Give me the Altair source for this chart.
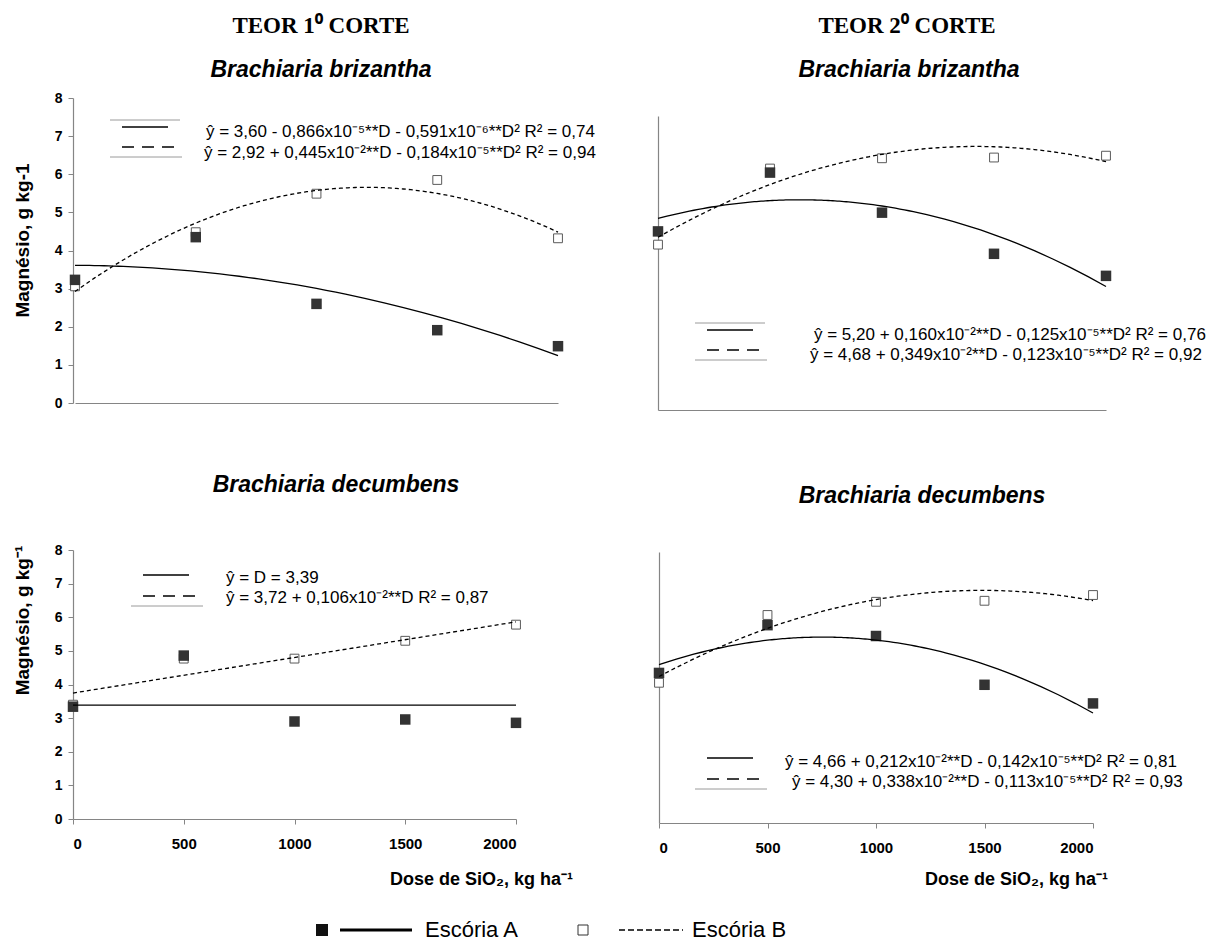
import altair as alt
import pandas as pd

# ---------------------------------------------------------------- data
DOSES = [0, 500, 1000, 1500, 2000]          # Dose de SiO2, kg/ha

# 1º corte – Brachiaria brizantha
TL_A = [3.23, 4.35, 2.60, 1.91, 1.49]
TL_B = [3.06, 4.48, 5.49, 5.85, 4.32]
# 2º corte – Brachiaria brizantha
TR_A = [4.86, 6.46, 5.37, 4.25, 3.65]
TR_B = [4.50, 6.57, 6.85, 6.87, 6.92]
# 1º corte – Brachiaria decumbens
BL_A = [3.34, 4.86, 2.90, 2.96, 2.86]
BL_B = [3.40, 4.77, 4.77, 5.30, 5.78]
# 2º corte – Brachiaria decumbens
BR_A = [4.43, 5.84, 5.52, 4.08, 3.53]
BR_B = [4.14, 6.14, 6.53, 6.56, 6.73]

Y_TICKS = [0, 1, 2, 3, 4, 5, 6, 7, 8]
X_TICKS = [0, 500, 1000, 1500, 2000]

EQ_TL = ["ŷ = 3,60 - 0,866x10⁻⁵**D - 0,591x10⁻⁶**D² R² = 0,74",
         "ŷ = 2,92 + 0,445x10⁻²**D - 0,184x10⁻⁵**D² R² = 0,94"]
EQ_TR = ["ŷ = 5,20 + 0,160x10⁻²**D - 0,125x10⁻⁵**D² R² = 0,76",
         "ŷ = 4,68 + 0,349x10⁻²**D - 0,123x10⁻⁵**D² R² = 0,92"]
EQ_BL = ["ŷ = D = 3,39",
         "ŷ = 3,72 + 0,106x10⁻²**D R² = 0,87"]
EQ_BR = ["ŷ = 4,66 + 0,212x10⁻²**D - 0,142x10⁻⁵**D² R² = 0,81",
         "ŷ = 4,30 + 0,338x10⁻²**D - 0,113x10⁻⁵**D² R² = 0,93"]

# ---------------------------------------------------------------- style
W, H = 1215, 942
SANS = "Liberation Sans, Arial, sans-serif"
SERIF = "Liberation Serif, Times New Roman, serif"
GRAY = "#858585"
EQ_SIZE = 17


def frame(a, b):
    rows = [{"dose": d, "mg": v, "serie": "A"} for d, v in zip(DOSES, a)]
    rows += [{"dose": d, "mg": v, "serie": "B"} for d, v in zip(DOSES, b)]
    return pd.DataFrame(rows)


def panel(a, b, xr, yr, xaxis, yaxis, flat_a=False, linear_b=False):
    """One plot: points of both slags plus their fitted curves."""
    xs = alt.Scale(domain=[0, 2000], range=xr, nice=False, zero=False)
    ys = alt.Scale(domain=[0, 8], range=yr, nice=False, zero=False)
    base = alt.Chart(frame(a, b))

    def enc(ch):
        return ch.encode(
            x=alt.X("dose:Q", scale=xs, axis=xaxis),
            y=alt.Y("mg:Q", scale=ys, axis=yaxis),
        )

    open_pts = enc(base.transform_filter(alt.datum.serie == "B").mark_square(
        size=78, fill="white", stroke="#5a5a5a", strokeWidth=1, opacity=1))
    full_pts = enc(base.transform_filter(alt.datum.serie == "A").mark_square(
        size=110, color="#333333", opacity=1))

    if flat_a:
        curve_a = base.transform_filter(alt.datum.serie == "A").transform_joinaggregate(
            media="mean(mg)").mark_line(color="black", strokeWidth=1.3).encode(
            x=alt.X("dose:Q", scale=xs, axis=xaxis),
            y=alt.Y("media:Q", scale=ys, axis=yaxis))
    else:
        curve_a = enc(base.transform_filter(alt.datum.serie == "A").transform_regression(
            "dose", "mg", method="poly", order=2, extent=[0, 2000]).mark_line(
            color="black", strokeWidth=1.3))

    if linear_b:
        reg_b = base.transform_filter(alt.datum.serie == "B").transform_regression(
            "dose", "mg", method="linear", extent=[0, 2000])
    else:
        reg_b = base.transform_filter(alt.datum.serie == "B").transform_regression(
            "dose", "mg", method="poly", order=2, extent=[0, 2000])
    curve_b = enc(reg_b.mark_line(color="black", strokeWidth=1.3, strokeDash=[4, 3]))

    return alt.layer(open_pts, full_pts, curve_a, curve_b)


def bare_axis(orient, offset):
    return alt.Axis(orient=orient, offset=offset, labels=False, ticks=False,
                    grid=False, title=None, domainColor=GRAY, domainWidth=1.2)


def y_axis(offset, title, title_x, title_y):
    return alt.Axis(orient="left", offset=offset, values=Y_TICKS, grid=False,
                    tickSize=5, tickColor=GRAY, domainColor=GRAY, domainWidth=1.2,
                    labelFont=SANS, labelFontWeight="bold", labelFontSize=14,
                    labelColor="black", labelPadding=6,
                    title=title, titleFont=SANS, titleFontWeight="bold",
                    titleFontSize=19, titleColor="black", titleAngle=270,
                    titleX=title_x, titleY=title_y, titleAlign="center",
                    titleBaseline="alphabetic")


def x_axis(offset, title_x, title_y):
    return alt.Axis(orient="bottom", offset=offset, values=X_TICKS, format="d",
                    grid=False, tickSize=5, tickColor=GRAY, domainColor=GRAY,
                    domainWidth=1.2, labelFont=SANS, labelFontWeight="bold",
                    labelFontSize=15, labelColor="black", labelPadding=12,
                    title="Dose de SiO₂, kg ha⁻¹", titleFont=SANS,
                    titleFontWeight="bold", titleFontSize=18, titleColor="black",
                    titleX=title_x, titleY=title_y, titleAlign="center",
                    titleBaseline="alphabetic")


ONE = pd.DataFrame({"k": [0]})


def note(text, x, y, size=EQ_SIZE, weight="normal", style="normal", font=SANS,
         align="left"):
    return alt.Chart(ONE).mark_text(
        text=text, font=font, fontSize=size, fontWeight=weight, fontStyle=style,
        align=align, baseline="alphabetic", color="black",
    ).encode(x=alt.value(x), y=alt.value(y))


def seg(x1, x2, y, dash=None, color="black", width=1.3):
    kw = dict(color=color, strokeWidth=width)
    if dash:
        kw["strokeDash"] = dash
    return alt.Chart(ONE).mark_rule(**kw).encode(
        x=alt.value(x1), x2=alt.value(x2), y=alt.value(y))


def key(xl, y_top, y_solid, y_dash, y_bottom, eqs, eq_x, eq_y):
    """Series key drawn inside a plot: sample strokes and the fitted equations."""
    layers = []
    if y_top is not None:
        layers.append(seg(xl, xl + 70, y_top, color="#9a9a9a", width=1))
    layers.append(seg(xl + 12, xl + 58, y_solid))
    layers.append(seg(xl + 12, xl + 66, y_dash, dash=[12, 8]))
    layers.append(seg(xl, xl + 72, y_bottom, color="#9a9a9a", width=1))
    layers.append(note(eqs[0], eq_x[0], eq_y[0]))
    layers.append(note(eqs[1], eq_x[1], eq_y[1]))
    return layers


# ---------------------------------------------------------------- panels
tl = panel(TL_A, TL_B, [75, 558], [403, 98],
           bare_axis("bottom", 403 - H),
           y_axis(-73, "Magnésio, g kg-1", 28 - 73, 240))
tr = panel(TR_A, TR_B, [658, 1106], [410, 116],
           bare_axis("bottom", 410 - H), bare_axis("left", -658))
bl = panel(BL_A, BL_B, [73, 516], [819, 550],
           x_axis(819 - H, 481, 884 - 819),
           y_axis(-73, "Magnésio, g kg⁻¹", 28 - 73, 620),
           flat_a=True, linear_b=True)
br = panel(BR_A, BR_B, [659, 1093], [823, 552],
           x_axis(823 - H, 1016, 884 - 823), bare_axis("left", -659))

texts = [
    note("TEOR 1⁰ CORTE", 321, 33, size=23, weight="bold", font=SERIF, align="center"),
    note("TEOR 2⁰ CORTE", 907, 33, size=23, weight="bold", font=SERIF, align="center"),
    note("Brachiaria brizantha", 321, 77, size=23, weight="bold", style="italic", align="center"),
    note("Brachiaria brizantha", 909, 77, size=23, weight="bold", style="italic", align="center"),
    note("Brachiaria decumbens", 336, 492, size=23, weight="bold", style="italic", align="center"),
    note("Brachiaria decumbens", 922, 503, size=23, weight="bold", style="italic", align="center"),
]

keys = (
    key(110, 120, 127, 147, 157, EQ_TL, (206, 204), (137, 158))
    + key(695, 323, 330, 350, 360, EQ_TR, (814, 810), (340, 360))
    + key(131, None, 575, 596, 606, EQ_BL, (226, 226), (583, 603))
    + key(695, None, 758, 779, 789, EQ_BR, (785, 792), (767, 787))
)

# bottom legend: ■ ——— Escória A   □ ------- Escória B
legend = [
    alt.Chart(ONE).mark_square(size=144, color="#111111", opacity=1).encode(
        x=alt.value(322), y=alt.value(930)),
    seg(340, 412, 930, width=3),
    note("Escória A", 425, 937, size=22),
    alt.Chart(ONE).mark_square(size=100, fill="white", stroke="#333333",
                               strokeWidth=1, opacity=1).encode(
        x=alt.value(583), y=alt.value(930)),
    seg(619, 683, 930, dash=[6, 3], width=1.5),
    note("Escória B", 692, 937, size=22),
]

chart = alt.layer(tl, tr, bl, br, *texts, *keys, *legend).resolve_scale(
    x="independent", y="independent"
).properties(
    width=W, height=H, padding=0,
    autosize=alt.AutoSizeParams(type="none"),
    background="white",
).configure_view(stroke=None)

chart.save("out.html", embed_options={"renderer": "svg", "actions": False})
